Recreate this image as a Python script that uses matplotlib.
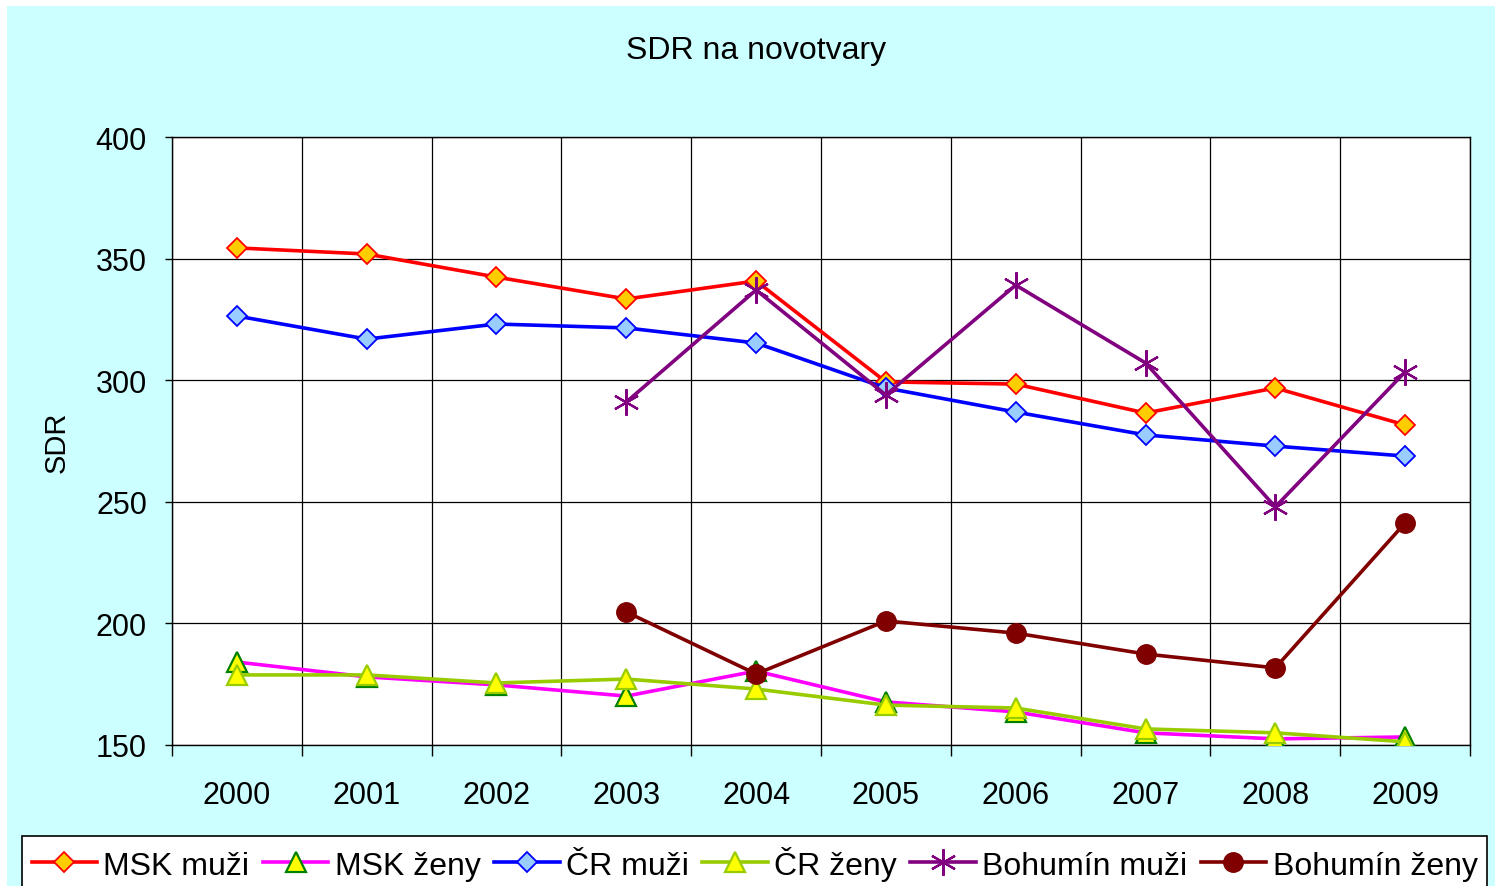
import matplotlib.pyplot as plt
from matplotlib.patches import Rectangle
import numpy as np

plt.rcParams['font.family'] = ['Liberation Sans', 'DejaVu Sans']

years = ["2000", "2001", "2002", "2003", "2004", "2005", "2006", "2007", "2008", "2009"]

msk_muzi = [354.4, 351.9, 342.4, 333.4, 340.8, 299.3, 298.4, 286.5, 296.8, 281.6]
msk_zeny = [184.1, 178.0, 174.7, 170.1, 180.4, 167.7, 163.6, 155.0, 152.5, 153.3]
cr_muzi = [326.4, 316.9, 323.1, 321.5, 315.3, 296.8, 286.9, 277.5, 272.9, 268.8]
cr_zeny = [178.8, 178.8, 175.5, 177.1, 173.0, 166.4, 165.2, 156.6, 155.0, 151.3]
boh_muzi = [np.nan, np.nan, np.nan, 291.0, 337.1, 293.9, 339.1, 307.1, 247.9, 303.4]
boh_zeny = [np.nan, np.nan, np.nan, 204.7, 179.2, 201.0, 196.0, 187.4, 181.7, 241.3]

x = np.arange(len(years))

fig = plt.figure(figsize=(14.95, 8.87), dpi=100)
fig.patch.set_facecolor("white")
fig.patches.append(Rectangle((0.005, 0), 1, 0.992, transform=fig.transFigure,
                             facecolor="#CCFFFF", edgecolor="none", zorder=-10))

ax = fig.add_axes([0.115, 0.159, 0.8683, 0.6854])
ax.set_facecolor("white")

lw = 2.6
ax.plot(x, msk_muzi, color="red", lw=lw, marker="D", ms=10,
        mfc="#FFCC00", mec="red", mew=1.3, label="MSK muži", zorder=3)
ax.plot(x, msk_zeny, color="#FF00FF", lw=lw, marker="^", ms=14,
        mfc="yellow", mec="green", mew=1.6, label="MSK ženy", zorder=3)
ax.plot(x, cr_muzi, color="blue", lw=lw, marker="D", ms=10,
        mfc="#99CCFF", mec="blue", mew=1.3, label="ČR muži", zorder=3)
ax.plot(x, cr_zeny, color="#99CC00", lw=lw, marker="^", ms=14,
        mfc="yellow", mec="#99CC00", mew=1.6, label="ČR ženy", zorder=3)
ax.plot(x, boh_muzi, color="#800080", lw=lw, marker=(6, 2, 0), ms=19,
        mec="#800080", mew=1.6, label="Bohumín muži", zorder=3)
ax.plot(x, boh_zeny, color="#800000", lw=lw, marker="o", ms=14,
        mfc="#800000", mec="#800000", label="Bohumín ženy", zorder=3)

ax.set_xlim(-0.5, 9.5)
ax.set_ylim(150, 400)
ax.set_yticks([150, 200, 250, 300, 350, 400])
ax.set_xticks(x)
ax.set_xticklabels(years)
ax.set_xticks(np.arange(-0.5, 10, 1), minor=True)
ax.tick_params(axis="x", which="major", length=0, pad=25, labelsize=22)
ax.tick_params(axis="x", which="minor", length=8, width=1, color="black")
ax.tick_params(axis="y", length=5, width=1, labelsize=22, pad=13)
ax.grid(True, axis="y", color="black", lw=0.9)
ax.grid(True, axis="x", which="minor", color="black", lw=0.9)
ax.grid(False, axis="x", which="major")
ax.set_axisbelow(True)
for s in ax.spines.values():
    s.set_color("black")
    s.set_linewidth(1)

ax.set_ylabel("SDR", fontsize=21, labelpad=18)
fig.text(0.506, 0.943, "SDR na novotvary", ha="center", va="center", fontsize=23)

leg = fig.legend(loc="upper left", bbox_to_anchor=(22 / 1495, 1 - 837 / 887),
                 ncol=6, fontsize=23, frameon=True, fancybox=False,
                 edgecolor="black", facecolor="white", framealpha=1,
                 handlelength=2.05, handletextpad=0.2, columnspacing=0.42,
                 borderaxespad=0, borderpad=0.3)
leg.get_frame().set_linewidth(1.2)

fig.savefig("out.png", dpi=100, facecolor=fig.get_facecolor())
